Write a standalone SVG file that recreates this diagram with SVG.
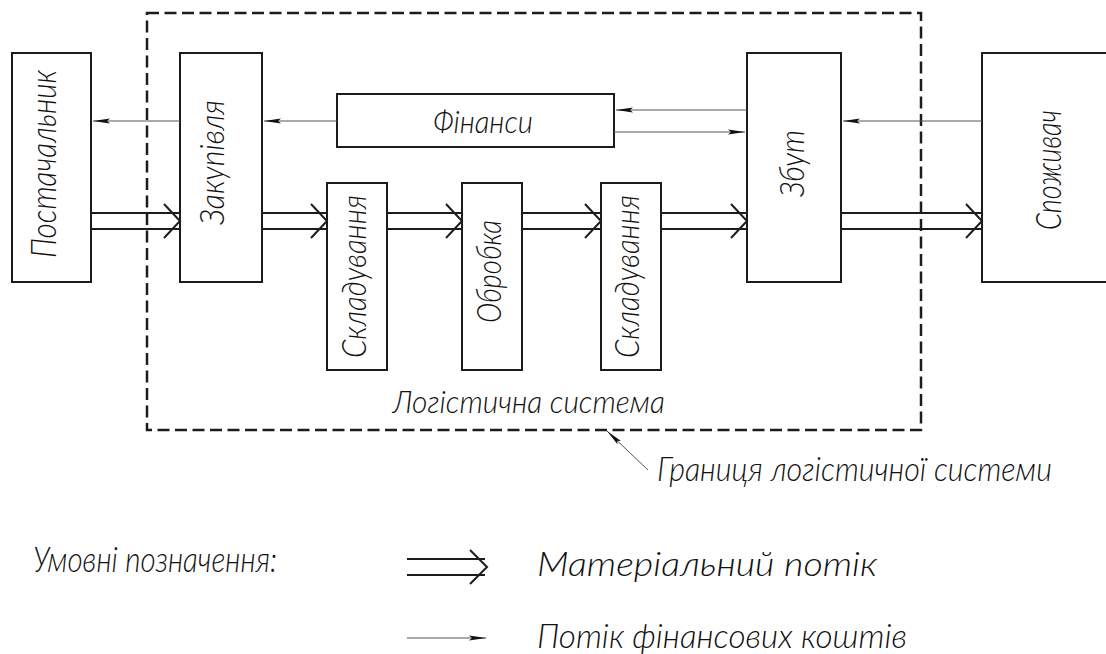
<svg xmlns="http://www.w3.org/2000/svg" width="1106" height="654" viewBox="0 0 1106 654">
  <defs>
    <style>
      .box { fill: none; stroke: #1c1c1c; stroke-width: 2; }
      .bound { fill: none; stroke: #1c1c1c; stroke-width: 2.5; stroke-dasharray: 12 5.5; }
      .mat { fill: none; stroke: #1c1c1c; stroke-width: 2; stroke-linejoin: miter; }
      .fin { fill: none; stroke: #555; stroke-width: 1; }
      .lbl { font-family: Lato, "Liberation Sans", sans-serif; font-style: italic; font-weight: 300; fill: #111; }
    </style>
    <marker id="fin-head" markerUnits="userSpaceOnUse" markerWidth="20" markerHeight="8" refX="17" refY="4" orient="auto">
      <path d="M0,1.6 L17,4 L0,6.4 L3,4 Z" fill="#111"/>
    </marker>
  </defs>

  <rect width="1106" height="654" fill="#fff"/>

  <!-- system boundary -->
  <rect class="bound" x="147" y="13" width="774" height="417"/>

  <!-- nodes -->
  <g id="supplier">
    <rect class="box" x="12" y="53" width="79" height="229"/>
    <text class="lbl" font-size="35" transform="translate(56,164) rotate(-90)" text-anchor="middle" textLength="188" lengthAdjust="spacingAndGlyphs">Постачальник</text>
  </g>
  <g id="purchase">
    <rect class="box" x="180" y="53" width="82" height="229"/>
    <text class="lbl" font-size="33" transform="translate(224,162.5) rotate(-90)" text-anchor="middle" textLength="125" lengthAdjust="spacingAndGlyphs">Закупівля</text>
  </g>
  <g id="finance">
    <rect class="box" x="337" y="94" width="277" height="53"/>
    <text class="lbl" font-size="31" x="433" y="133" textLength="100" lengthAdjust="spacingAndGlyphs">Фінанси</text>
  </g>
  <g id="storage-in">
    <rect class="box" x="327" y="183" width="60" height="187"/>
    <text class="lbl" font-size="34" transform="translate(366,276.5) rotate(-90)" text-anchor="middle" textLength="163" lengthAdjust="spacingAndGlyphs">Складування</text>
  </g>
  <g id="processing">
    <rect class="box" x="462" y="183" width="60" height="187"/>
    <text class="lbl" font-size="34" transform="translate(501,271.5) rotate(-90)" text-anchor="middle" textLength="103" lengthAdjust="spacingAndGlyphs">Обробка</text>
  </g>
  <g id="storage-out">
    <rect class="box" x="601" y="183" width="60" height="187"/>
    <text class="lbl" font-size="34" transform="translate(639,276.5) rotate(-90)" text-anchor="middle" textLength="163" lengthAdjust="spacingAndGlyphs">Складування</text>
  </g>
  <g id="sales">
    <rect class="box" x="747" y="53" width="94" height="229"/>
    <text class="lbl" font-size="34" transform="translate(804,163.5) rotate(-90)" text-anchor="middle" textLength="67" lengthAdjust="spacingAndGlyphs">Збут</text>
  </g>
  <g id="consumer">
    <rect class="box" x="982" y="53" width="130" height="229"/>
    <text class="lbl" font-size="36" transform="translate(1061,170) rotate(-90)" text-anchor="middle" textLength="120" lengthAdjust="spacingAndGlyphs">Споживач</text>
  </g>

  <!-- connectors -->
  <g id="connectors">
    <!-- material flow: double line with open chevron -->
    <path class="mat" d="M91,213 H179 M91,229 H179 M164,204 L180,221 L164,238"/>
    <path class="mat" d="M262,213 H326 M262,229 H326 M311,204 L327,221 L311,238"/>
    <path class="mat" d="M387,213 H461 M387,229 H461 M446,204 L462,221 L446,238"/>
    <path class="mat" d="M522,213 H600 M522,229 H600 M585,204 L601,221 L585,238"/>
    <path class="mat" d="M661,213 H746 M661,229 H746 M731,204 L747,221 L731,238"/>
    <path class="mat" d="M841,213 H981 M841,229 H981 M966,204 L982,221 L966,238"/>
    <!-- financial flow -->
    <line class="fin" x1="180" y1="121" x2="93" y2="121" marker-end="url(#fin-head)"/>
    <line class="fin" x1="337" y1="121" x2="264" y2="121" marker-end="url(#fin-head)"/>
    <line class="fin" x1="747" y1="110" x2="616" y2="110" marker-end="url(#fin-head)"/>
    <line class="fin" x1="614" y1="132" x2="745" y2="132" marker-end="url(#fin-head)"/>
    <line class="fin" x1="982" y1="121" x2="843" y2="121" marker-end="url(#fin-head)"/>
    <!-- boundary leader -->
    <line class="fin" x1="648" y1="470" x2="607" y2="431" marker-end="url(#fin-head)"/>
  </g>

  <!-- captions -->
  <text class="lbl" font-size="31" x="393" y="413" textLength="272" lengthAdjust="spacingAndGlyphs">Логістична система</text>
  <text class="lbl" font-size="33" x="657" y="481" textLength="395" lengthAdjust="spacingAndGlyphs">Границя логістичної системи</text>

  <!-- legend -->
  <g id="legend">
    <text class="lbl" font-size="35" x="33" y="572" textLength="244" lengthAdjust="spacingAndGlyphs">Умовні позначення:</text>
    <path class="mat" d="M407,559 H485 M407,575 H485 M470,550 L487,567 L470,584"/>
    <text class="lbl" font-size="33" x="537" y="576" textLength="340" lengthAdjust="spacingAndGlyphs">Матеріальний потік</text>
    <line class="fin" x1="407" y1="638" x2="486" y2="638" marker-end="url(#fin-head)"/>
    <text class="lbl" font-size="33" x="537" y="648" textLength="370" lengthAdjust="spacingAndGlyphs">Потік фінансових коштів</text>
  </g>
</svg>
